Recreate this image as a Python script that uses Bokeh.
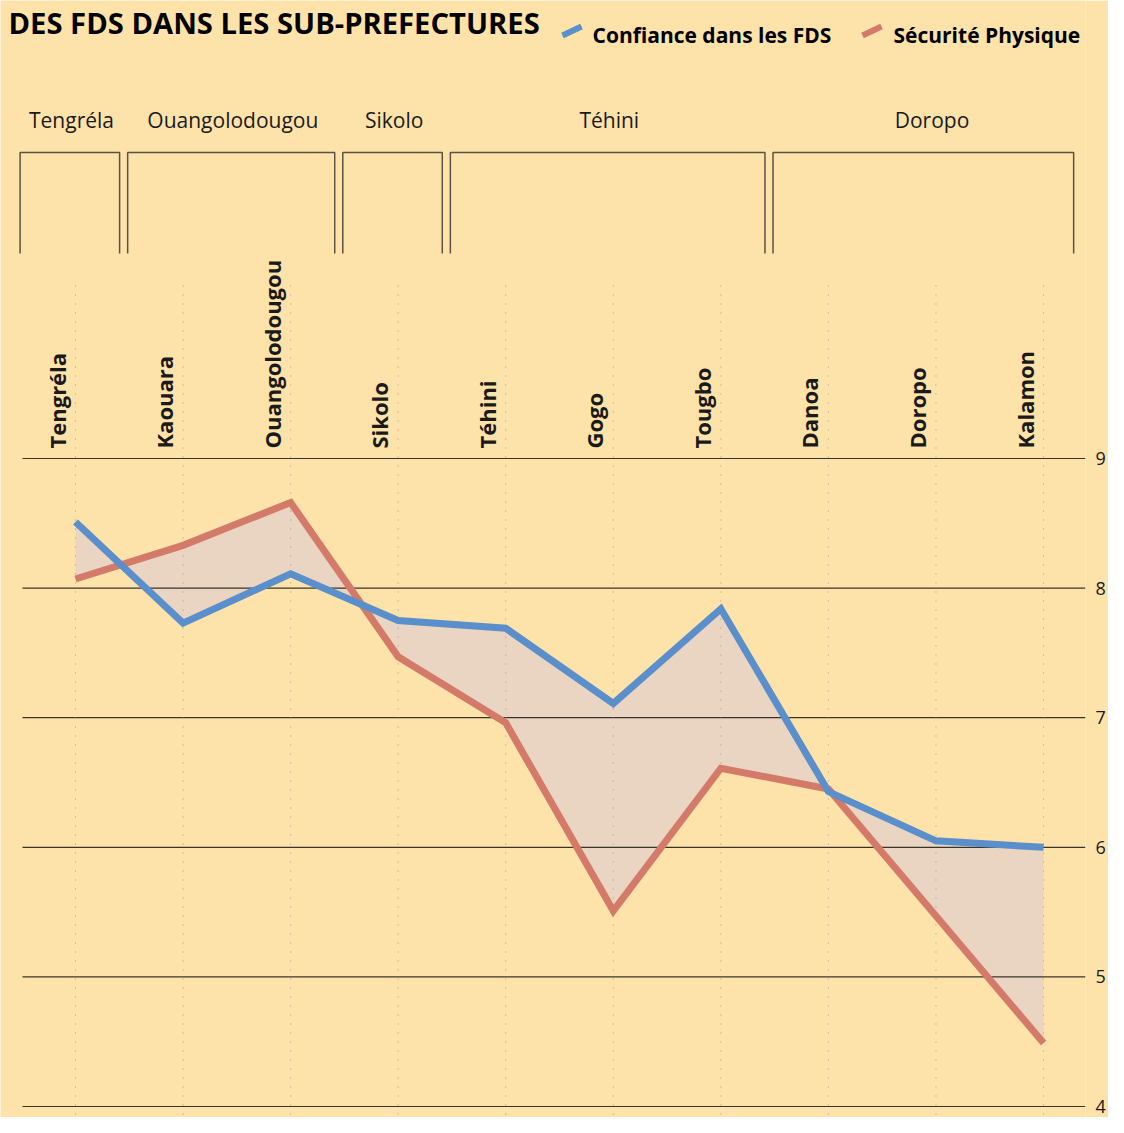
import numpy as np
from bokeh.plotting import figure
from bokeh.models import LinearAxis, FixedTicker, Range1d
from bokeh.core.properties import value
from bokeh.embed import file_html
from bokeh.resources import INLINE

# ---------------- data ----------------
title = "DES FDS DANS LES SUB-PREFECTURES"
sub_prefectures = ["Tengréla", "Kaouara", "Ouangolodougou", "Sikolo", "Téhini",
                   "Gogo", "Tougbo", "Danoa", "Doropo", "Kalamon"]
confiance = [8.51, 7.73, 8.11, 7.75, 7.69, 7.11, 7.84, 6.43, 6.05, 6.00]
securite = [8.07, 8.33, 8.66, 7.47, 6.96, 5.51, 6.61, 6.45, 5.47, 4.49]
departements = ["Tengréla", "Ouangolodougou", "Sikolo", "Téhini", "Doropo"]
dept_counts = [1, 2, 1, 3, 3]
y_ticks = [4, 5, 6, 7, 8, 9]
series_names = ["Confiance dans les FDS", "Sécurité Physique"]

# ---------------- styles ----------------
BG = "#FDE3AA"
FILL = "#E9D5C2"
BLUE = "#5A8FCB"
RED = "#D47A69"
INK = "#1a1a1a"
FONT = "Open Sans"

# canvas-pixel helpers
X0, DXP = 75.0, 107.56
Y9, DYP = 458.0, 129.6


def dx(px):
    return (px - X0) / DXP


def dy(py):
    return 9 - (py - Y9) / DYP


W, H = 1108, 1117
FRAME_R = 1085
p = figure(width=W, height=H, output_backend="svg", toolbar_location=None,
           x_range=Range1d(dx(0), dx(FRAME_R)), y_range=Range1d(dy(H), dy(0)),
           x_axis_location=None, y_axis_location=None,
           min_border_left=0, min_border_right=W - FRAME_R,
           min_border_top=0, min_border_bottom=0)
p.background_fill_color = BG
p.border_fill_color = BG
p.outline_line_color = None
p.xgrid.visible = False
p.ygrid.visible = False

xs = list(range(len(sub_prefectures)))

# area between the two series
p.varea(x=xs, y1=confiance, y2=securite, fill_color=FILL)

# horizontal grid lines
p.segment(x0=[dx(22)] * len(y_ticks), x1=[dx(FRAME_R)] * len(y_ticks),
          y0=y_ticks, y1=y_ticks, line_color="#3a3428", line_width=1.2)

# dotted vertical guides
p.segment(x0=xs, x1=xs, y0=[dy(285)] * len(xs), y1=[dy(H)] * len(xs),
          line_color="#9a9a9a", line_width=1, line_dash="1 8")

# series lines
p.line(xs, securite, line_color=RED, line_width=7, line_join="miter")
p.line(xs, confiance, line_color=BLUE, line_width=7, line_join="miter")

# rotated sub-prefecture labels
p.text(x=xs, y=[9] * len(xs), text=sub_prefectures, angle=np.pi / 2,
       x_offset=-19, y_offset=-10, text_align="left", text_baseline="alphabetic",
       text_font=value(FONT), text_font_style="bold", text_font_size="22px",
       text_color=INK)

# department brackets and labels
starts = np.cumsum([0] + dept_counts[:-1])
ends = starts + np.array(dept_counts) - 1
bx, by = [], []
for s, e in zip(starts, ends):
    left = s - 0.5 - 0.015
    right = min(e + 0.5 - 0.09, 9.28)
    bx.append([left, left, right, right])
    by.append([dy(253), dy(152), dy(152), dy(253)])
p.multi_line(xs=bx, ys=by, line_color="#5a5245", line_width=1.5)
mids = [(s + e) / 2 for s, e in zip(starts, ends)]
p.text(x=mids, y=[dy(119)] * len(mids), text=departements, x_offset=-4,
       text_align="center", text_baseline="middle",
       text_font=value(FONT), text_font_size="21px", text_color=INK)

# title
p.text(x=[dx(8)], y=[dy(22)], text=[title], text_align="left",
       text_baseline="alphabetic", text_font=value(FONT), text_font_style="bold",
       text_font_size="29.2px", text_color="#000000")

# legend (kept inside the plot frame)
p.segment(x0=[dx(562), dx(862)], y0=[dy(35), dy(35)],
          x1=[dx(581), dx(881)], y1=[dy(26), dy(26)],
          line_color=[BLUE, RED], line_width=6)
p.text(x=[dx(592), dx(893)], y=[dy(34), dy(34)], text=series_names,
       text_align="left", text_baseline="alphabetic", text_font=value(FONT),
       text_font_style="bold", text_font_size="21px", text_color="#000000")

# right value axis
ax = LinearAxis(ticker=FixedTicker(ticks=y_ticks))
ax.axis_line_color = None
ax.major_tick_line_color = None
ax.minor_tick_line_color = None
ax.major_tick_out = 0
ax.major_tick_in = 0
ax.major_label_standoff = 10
ax.major_label_text_font = FONT
ax.major_label_text_font_size = "18px"
ax.major_label_text_color = INK
p.add_layout(ax, "right")

open("out.html", "w").write(file_html(p, INLINE))
